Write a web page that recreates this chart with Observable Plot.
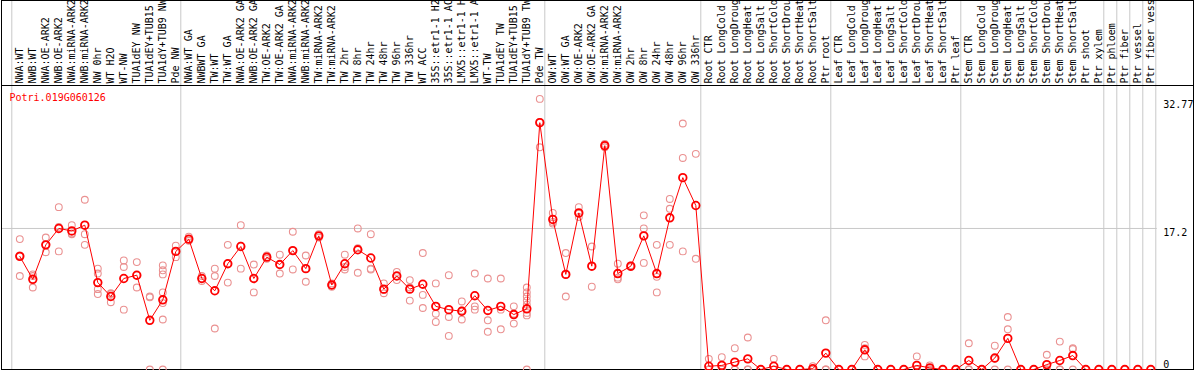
<!DOCTYPE html>
<html><head><meta charset="utf-8">
<script src="https://cdn.jsdelivr.net/npm/d3@7"></script>
<script src="https://cdn.jsdelivr.net/npm/@observablehq/plot@0.6"></script>
<style>
html,body{margin:0;padding:0;background:#fff;}
#chart svg{display:block;}
</style>
</head><body><div id="chart"></div>
<script>
const geneId = "Potri.019G060126";
const categories = [
 "NWA:WT","NWB:WT","NWA:OE-ARK2","NWB:OE-ARK2","NWA:miRNA-ARK2","NWB:miRNA-ARK2","NW 0hr","WT H2O","WT-NW","TUA1dEY NW","TUA1dEY+TUB15","TUA1dY+TUB9 NW","Pde NW",
 "NWA:WT GA","NWBWT GA","TW:WT","TW:WT GA","NWA:OE-ARK2 GA","NWB:OE-ARK2 GA","TW:OE-ARK2","TW:OE-ARK2 GA","NWA:miRNA-ARK2","NWB:miRNA-ARK2","TW:miRNA-ARK2","TW:miRNA-ARK2",
 "TW 2hr","TW 8hr","TW 24hr","TW 48hr","TW 96hr","TW 336hr","WT ACC","35S::etr1-1 H2","35S::etr1-1 AC","LMX5::etr1-1 H","LMX5::etr1-1 A","WT-TW","TUA1dEY TW","TUA1dEY+TUB15","TUA1dY+TUB9 TW","Pde TW",
 "OW:WT","OW:WT GA","OW:OE-ARK2","OW:OE-ARK2 GA","OW:miRNA-ARK2","OW:miRNA-ARK2","OW 2hr","OW 8hr","OW 24hr","OW 48hr","OW 96hr","OW 336hr",
 "Root CTR","Root LongCold","Root LongDroug","Root LongHeat","Root LongSalt","Root ShortCold","Root ShortDrou","Root ShortHeat","Root ShortSalt","Ptr root",
 "Leaf CTR","Leaf LongCold","Leaf LongDroug","Leaf LongHeat","Leaf LongSalt","Leaf ShortCold","Leaf ShortDrou","Leaf ShortHeat","Leaf ShortSalt","Ptr leaf",
 "Stem CTR","Stem LongCold","Stem LongDroug","Stem LongHeat","Stem LongSalt","Stem ShortCold","Stem ShortDrou","Stem ShortHeat","Stem ShortSalt","Ptr shoot",
 "Ptr xylem","Ptr phloem","Ptr fiber","Ptr vessel","Ptr fiber vess"
];
const means = [
 13.8,11.0,15.2,17.2,16.9,17.6,10.6,8.9,11.1,11.5,6.0,8.5,14.4,
 15.9,11.1,9.6,12.9,15.0,11.1,13.7,12.8,14.5,12.3,16.3,10.3,
 12.9,14.6,13.6,9.8,11.4,9.8,10.4,7.7,7.3,7.1,9.0,7.2,7.7,6.7,7.4,30.1,
 18.3,11.6,19.1,12.6,27.3,11.7,12.6,16.3,11.7,18.5,23.4,20.0,
 0.4,0.5,0.9,1.3,0,0.4,0,0,0.1,2.0,
 0,0,2.4,0,0,0,0.5,0.2,0,0,
 1.1,0,1.4,3.8,0,0,0.6,1.1,1.7,0,
 0,0,0,0,0
];
const replicates = [
 [15.9,13.9,11.4],[11.6,11.4,10.0],[16.1,15.2,14.3],[19.8,17.4,14.4],[17.6,16.6,16.5],[20.7,16.5,15.2],
 [12.3,11.7,9.8,9.2],[9.3,9.2,8.2],[13.3,12.5,7.3],[13.1,11.5,10.0],[8.9,8.8,0],[12.7,12.1,11.6,9.4,8.1,6.1,0],[15.1,14.4,13.7],
 [16.2,15.9,15.7],[11.4,11.1,10.8],[12.3,11.4,5.0],[15.2,12.9,10.6],[17.6,15.1,12.3],[12.8,11.1,9.4],[13.9,13.7,13.5],
 [14.0,12.8,11.7],[16.8,14.5,12.2],[13.9,12.3,10.7],[16.5,16.3,16.1],[10.5,10.3,10.1],
 [14.0,12.5,12.2],[17.2,14.8,11.8],[16.5,12.3,12.2],[10.5,9.7,9.3],[11.9,11.4,10.9],[10.9,10.0,8.4],[14.2,9.1,7.5],
 [10.5,6.8,5.8],[11.5,6.4,4.1],[8.3,7.2,6.1],[11.7,7.7,7.3],[11.1,6.0,4.6],[11.1,7.3,4.9],[7.7,6.8,5.6],
 [10.0,9.4,8.9,8.4,7.9,6.9,6.6,0],[33.0,30.2,27.1],
 [19.1,18.0,17.8],[14.2,11.6,8.9],[19.8,19.0,18.6],[15.0,12.6,10.1],[27.5,27.3,27.1],[12.9,11.2,11.0],
 [12.7,12.6,12.5],[18.8,17.2,13.0],[15.2,11.3,9.4],[20.8,19.6,15.2],[30.0,25.8,14.4],[26.3,13.5],
 [1.3,0,0],[1.5,0,0],[2.6,0,0],[3.9,0,0],[0,0],[1.3,0,0],[0,0],[0,0],[0.4,0,0],[6.0,0,0],
 [0,0],[0,0],[3.0,2.6,1.6],[0,0],[0,0],[0,0],[1.6,0,0],[0.5,0,0],[0,0],[0,0],
 [3.2,0,0],[0,0],[2.9,1.3,0],[6.4,4.9,0],[0,0],[0,0],[1.8,0,0],[3.4,0,0],[2.6,2.5,0],[0,0],
 [0,0],[0,0],[0,0],[0,0],[0,0]
];
const groupStarts = [0,13,41,53,63,73,84,85,86,87,88];
const yTickLabels = [32.77, 17.2];
const yZeroLabel = [0];

const meanData = means.map((v, i) => ({i, v}));
const repData = replicates.flatMap((arr, i) => arr.map(v => ({i, v})));

const W = 1194, H = 370, mL = 12.8, mR = 37.2, mT = 85, mB = 1;
const grid = "#c8c8c8";
const chart = Plot.plot({
  width: W, height: H,
  marginLeft: mL, marginRight: mR, marginTop: mT, marginBottom: mB,
  style: {fontFamily: "'DejaVu Sans Mono', monospace", fontSize: "10px", background: "#fff", color: "black"},
  x: {type: "linear", domain: [-0.5, categories.length - 0.5], label: null},
  y: {domain: [0, 33.05], range: [369, 98], axis: null, label: null},
  marks: [
    Plot.ruleY([17.2], {stroke: grid, insetLeft: -(mL - 1)}),
    Plot.ruleX(groupStarts, {x: d => d - 0.5, dx: -1.5, stroke: grid, insetTop: -mT}),
    Plot.axisX(d3.range(categories.length), {
      anchor: "top", label: null, tickFormat: i => categories[i], tickRotate: -90,
      tickSize: 0, tickPadding: 2, fontSize: 10, fill: "black", textAnchor: "start"
    }),
    Plot.frame({stroke: "black", insetLeft: -(mL - 1), insetRight: -(mR - 1), insetTop: -mT}),
    Plot.frame({stroke: "black", insetLeft: -(mL - 1), insetRight: -(mR - 1)}),
    Plot.text([geneId], {frameAnchor: "top-left", dx: 9 - mL, dy: 12, fill: "red", textAnchor: "start", lineAnchor: "middle", fontSize: 10}),
    Plot.text(yTickLabels, {y: d => d, text: d => String(d), frameAnchor: "right", dx: 6, textAnchor: "start", lineAnchor: "top", dy: 0, fill: "black", fontSize: 10}),
    Plot.text(yZeroLabel, {y: d => d, text: d => String(d), frameAnchor: "right", dx: 6, textAnchor: "start", lineAnchor: "bottom", dy: -2, fill: "black", fontSize: 10}),
    Plot.dot(repData, {x: "i", y: "v", r: 3.4, stroke: "#ea9191", strokeWidth: 1.1, fill: "none"}),
    Plot.line(meanData, {x: "i", y: "v", stroke: "red", strokeWidth: 1}),
    Plot.dot(meanData, {x: "i", y: "v", r: 3.8, stroke: "red", strokeWidth: 1.8, fill: "none"})
  ]
});
document.getElementById("chart").appendChild(chart);
</script>
</body></html>
